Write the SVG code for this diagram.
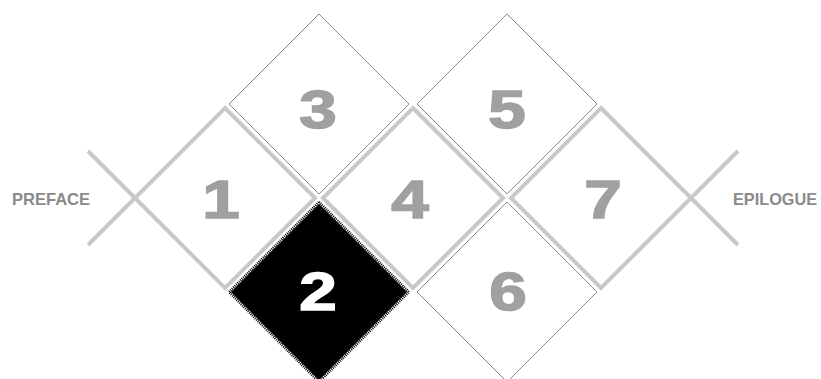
<svg xmlns="http://www.w3.org/2000/svg" width="821" height="379" viewBox="0 0 821 379">
<style>
.thick{fill:#fff;stroke:#c8c8c8;stroke-width:4;stroke-linejoin:miter}
.thin{fill:#fff;stroke:#8a8a8a;stroke-width:1}
.ext{stroke:#c8c8c8;stroke-width:4;fill:none}
.dig{font-family:"Liberation Sans",Arial,sans-serif;font-weight:bold;font-size:54px;fill:#a0a0a0;stroke:#a0a0a0;stroke-width:1.5;text-anchor:middle}
.lbl{font-family:"Liberation Sans",Arial,sans-serif;font-weight:bold;font-size:17px;fill:#8a8a8a}
</style>
<rect width="821" height="379" fill="#fff"/>
<g id="connectors">
<polyline class="ext" points="88,151 135,198 88,245"/>
<polyline class="ext" points="738,151 691,198 738,245"/>
</g>
<g id="node-3"><polygon class="thin" points="319,14 409,104 319,194 229,104"/><text class="dig" transform="translate(318,128) scale(1.25,1)">3</text></g>
<g id="node-5"><polygon class="thin" points="507,14 597,104 507,194 417,104"/><text class="dig" transform="translate(507,128) scale(1.25,1)">5</text></g>
<g id="node-6"><polygon class="thin" points="507,202 597,292 507,382 417,292"/><text class="dig" transform="translate(508,310) scale(1.25,1)">6</text></g>
<g id="node-1"><polygon class="thick" points="225,108 315,198 225,288 135,198"/><text class="dig" transform="translate(221,218) scale(1.25,1)">1</text></g>
<g id="node-4"><polygon class="thick" points="413,108 503,198 413,288 323,198"/><text class="dig" transform="translate(410,218) scale(1.25,1)">4</text></g>
<g id="node-7"><polygon class="thick" points="601,108 691,198 601,288 511,198"/><text class="dig" transform="translate(603,218) scale(1.25,1)">7</text></g>
<g id="node-2">
<polygon points="319,202 409,292 319,382 229,292" fill="#000" stroke="#fff" stroke-width="2.5"/>
<polygon points="319,202 409,292 319,382 229,292" fill="none" stroke="#000" stroke-width="2.5" stroke-dasharray="1 1"/>
<text class="dig" style="fill:#fff;stroke:#fff" transform="translate(318,310) scale(1.25,1)">2</text>
</g>
<g id="node-preface"><text class="lbl" x="12" y="205" textLength="78" lengthAdjust="spacingAndGlyphs">PREFACE</text></g>
<g id="node-epilogue"><text class="lbl" x="733" y="205" textLength="84" lengthAdjust="spacingAndGlyphs">EPILOGUE</text></g>
</svg>
